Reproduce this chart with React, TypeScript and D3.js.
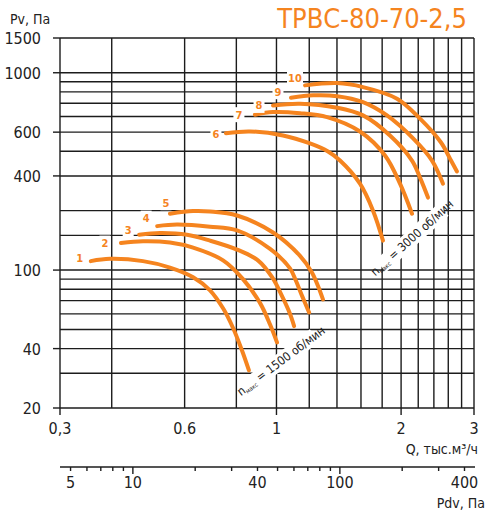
import React, { useEffect, useRef } from "react";
import * as d3 from "d3";

const W = 487;
const H = 513;
const ORANGE = "#f5841f";
const FONT = "'Liberation Sans Narrow', 'DejaVu Sans Condensed', 'Arial Narrow', sans-serif";

// grid and axis values
const qGrid = [0.3, 0.4, 0.6, 0.8, 1, 1.2, 1.4, 1.6, 1.8, 2, 2.2, 2.4, 2.6, 2.8, 3];
const qTicks = [0.3, 1, 2, 3];
const qLabelValues = [0.3, 0.6, 1, 2, 3];
const qLabels = ["0,3", "0.6", "1", "2", "3"];
const pGrid = [20, 30, 40, 50, 60, 70, 80, 90, 100, 150, 200, 300, 400, 500, 600, 700, 800, 900, 1000, 1500];
const pTickValues = [20, 40, 100, 300, 500, 1000, 1500];
const pTickLabels = ["20", "40", "100", "400", "600", "1000", "1500"];
const pdvTicks = [5, 6, 7, 8, 9, 10, 20, 30, 40, 50, 60, 70, 80, 90, 100, 200, 300, 400];
const pdvMajor = [10, 100];
const pdvLabels = [5, 10, 40, 100, 400];
const pdvAtOne = 49.4; // Pdv at Q = 1 thousand m3/h

// curves: Q (thousand m3/h), Pv (Pa)
const q1 = [0.356, 0.396, 0.476, 0.553, 0.629, 0.691, 0.743, 0.785, 0.826, 0.858];
const p1 = [111, 114, 111, 103, 92, 79, 64, 51, 39, 31];
const q2 = [0.421, 0.476, 0.553, 0.629, 0.743, 0.83, 0.913, 0.965, 1.003];
const p2 = [137, 140, 138, 130, 112, 90, 68, 53, 43];
const q3 = [0.466, 0.523, 0.608, 0.691, 0.803, 0.902, 0.976, 1.037, 1.078, 1.103];
const p3 = [151, 154, 151, 141, 127, 112, 92, 72, 60, 52];
const q4 = [0.515, 0.575, 0.691, 0.803, 0.965, 1.078, 1.115, 1.153, 1.199];
const p4 = [167, 170, 166, 159, 128, 102, 88, 74, 61];
const q5 = [0.553, 0.629, 0.691, 0.803, 0.981, 1.14, 1.219, 1.26, 1.295];
const p5 = [193, 199, 198, 189, 155, 118, 97, 83, 71];
const q6 = [0.755, 0.863, 1.037, 1.205, 1.332, 1.424, 1.591, 1.711, 1.808];
const p6 = [494, 504, 481, 438, 399, 359, 274, 200, 141];
const q7 = [0.887, 0.981, 1.14, 1.325, 1.591, 1.829, 1.988, 2.125];
const p7 = [613, 632, 624, 596, 504, 381, 274, 193];
const q8 = [0.981, 1.14, 1.401, 1.618, 1.88, 2.125, 2.222, 2.323];
const p8 = [683, 697, 665, 608, 481, 359, 294, 233];
const q9 = [1.084, 1.226, 1.401, 1.618, 1.849, 2.138, 2.375, 2.525];
const p9 = [747, 768, 761, 710, 608, 465, 359, 274];
const q10 = [1.172, 1.401, 1.618, 1.955, 2.222, 2.497, 2.64, 2.729];
const p10 = [863, 886, 846, 739, 585, 443, 359, 316];

const curveNames = ["1", "2", "3", "4", "5", "6", "7", "8", "9", "10"];
const curveQ = [q1, q2, q3, q4, q5, q6, q7, q8, q9, q10];
const curveP = [p1, p2, p3, p4, p5, p6, p7, p8, p9, p10];
// label offset from curve start, px
const labelOffsets = [[-11, -3], [-16, 0], [-11, -5], [-11, -8], [-4, -11], [-10, 1], [-16, 0], [-14, 0], [-13, -6], [-10, -7]];

const speedLabels = ["1500 об/мин", "3000 об/мин"];

const App = () => {
  const ref = useRef<SVGSVGElement>(null);

  useEffect(() => {
    const svg = d3.select(ref.current);
    svg.selectAll("*").remove();

    const x = d3.scaleLog().domain([0.3, 3]).range([60, 474]);
    const y = d3.scaleLog().domain([20, 1500]).range([408, 38]);
    const xPdv = d3.scaleLog().domain([0.09 * pdvAtOne, 9 * pdvAtOne]).range([60, 474]);

    svg.append("rect").attr("width", W).attr("height", H).attr("fill", "#fff");

    const grid = svg.append("g").attr("stroke", "#1c1c1c").attr("stroke-width", 1.4);
    grid.selectAll(".v").data(qGrid).enter().append("line")
      .attr("x1", (d) => x(d)).attr("x2", (d) => x(d))
      .attr("y1", y(1500)).attr("y2", y(20));
    grid.selectAll(".h").data(pGrid).enter().append("line")
      .attr("x1", x(0.3)).attr("x2", x(3))
      .attr("y1", (d) => y(d)).attr("y2", (d) => y(d));
    // tick stubs
    grid.selectAll(".yt").data(pTickValues).enter().append("line")
      .attr("x1", 53).attr("x2", x(0.3))
      .attr("y1", (d) => y(d)).attr("y2", (d) => y(d));
    grid.selectAll(".xt").data(qTicks).enter().append("line")
      .attr("x1", (d) => x(d)).attr("x2", (d) => x(d))
      .attr("y1", y(20)).attr("y2", y(20) + 7);

    const txt = (g, s) => g.attr("font-family", FONT).attr("fill", "#222").attr("font-size", s);

    // y labels
    txt(svg.append("g"), 16).selectAll("text").data(pTickValues).enter().append("text")
      .attr("x", 41).attr("y", (d) => y(d) + 6).attr("text-anchor", "end")
      .text((d, i) => pTickLabels[i]);
    txt(svg.append("text"), 14).attr("x", 10).attr("y", 24).text("Pv, Па");

    // x labels
    txt(svg.append("g"), 16).selectAll("text").data(qLabelValues).enter().append("text")
      .attr("x", (d) => x(d)).attr("y", 434).attr("text-anchor", "middle")
      .text((d, i) => qLabels[i]);
    txt(svg.append("text"), 14).attr("x", 478).attr("y", 454).attr("text-anchor", "end")
      .text("Q, тыс.м³/ч");

    // Pdv axis
    const pd = svg.append("g").attr("stroke", "#1c1c1c").attr("stroke-width", 1.4);
    pd.append("line").attr("x1", 60).attr("x2", 475).attr("y1", 467).attr("y2", 467);
    pd.selectAll(".t").data(pdvTicks).enter().append("line")
      .attr("x1", (d) => xPdv(d)).attr("x2", (d) => xPdv(d))
      .attr("y1", 467).attr("y2", (d) => (pdvMajor.includes(d) ? 474 : 471));
    txt(svg.append("g"), 16).selectAll("text").data(pdvLabels).enter().append("text")
      .attr("x", (d) => xPdv(d)).attr("y", 488).attr("text-anchor", "middle")
      .text((d) => d);
    txt(svg.append("text"), 14).attr("x", 485).attr("y", 508).attr("text-anchor", "end")
      .text("Pdv, Па");

    // title
    svg.append("text").attr("x", 467).attr("y", 28).attr("text-anchor", "end")
      .attr("font-family", FONT).attr("font-size", 27).attr("fill", ORANGE)
      .text("ТРВС-80-70-2,5");

    // curves
    const line = d3.line<number>()
      .x((d) => d[0]).y((d) => d[1])
      .curve(d3.curveCatmullRom.alpha(0.5));
    curveNames.forEach((name, i) => {
      const pts = curveQ[i].map((q, j) => [x(q), y(curveP[i][j])]);
      svg.append("path").attr("d", line(pts)).attr("fill", "none")
        .attr("stroke", ORANGE).attr("stroke-width", 4).attr("stroke-linecap", "round");
      const [dx, dy] = labelOffsets[i];
      const lx = pts[0][0] + dx;
      const ly = pts[0][1] + dy;
      const w = name.length > 1 ? 16 : 11;
      svg.append("rect").attr("x", lx - w / 2).attr("y", ly - 7.5).attr("width", w).attr("height", 15)
        .attr("fill", "#fff");
      svg.append("text").attr("x", lx).attr("y", ly + 4).attr("text-anchor", "middle")
        .attr("font-family", FONT).attr("font-weight", "bold").attr("font-size", 11)
        .attr("fill", ORANGE).text(name);
    });

    // speed annotations
    const notes = [
      { cx: 281, cy: 361, angle: -37, text: speedLabels[0] },
      { cx: 412, cy: 238, angle: -42, text: speedLabels[1] }
    ];
    notes.forEach((n) => {
      const g = svg.append("g").attr("transform", `translate(${n.cx},${n.cy}) rotate(${n.angle})`);
      g.append("rect").attr("x", -42).attr("y", -8).attr("width", 84).attr("height", 16).attr("fill", "#fff");
      const t = g.append("text").attr("x", 0).attr("y", 4).attr("text-anchor", "middle")
        .attr("font-family", FONT).attr("font-size", 12).attr("fill", "#222");
      t.append("tspan").text("n");
      t.append("tspan").attr("font-size", 6).attr("dy", 2).text("макс");
      t.append("tspan").attr("dy", -2).text(" = " + n.text);
    });
  }, []);

  return (
    <svg ref={ref} width={W} height={H} style={{ position: "absolute", left: 0, top: 0 }} />
  );
};

export default App;
